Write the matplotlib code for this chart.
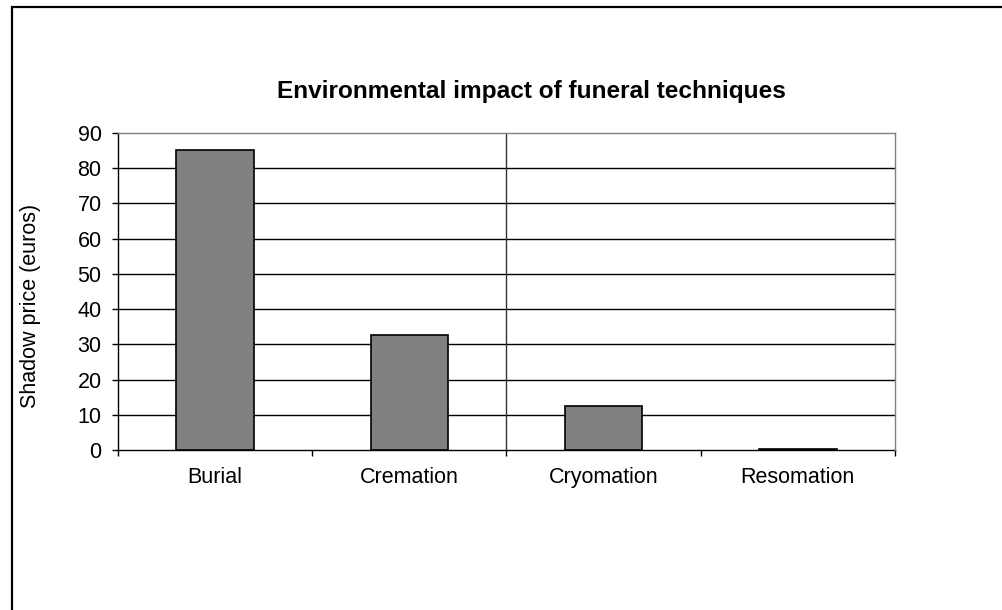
import matplotlib
matplotlib.use("Agg")
import matplotlib.pyplot as plt
from matplotlib.patches import Rectangle
import numpy as np

plt.rcParams['font.family'] = ['Liberation Sans', 'DejaVu Sans']

categories = ["Burial", "Cremation", "Cryomation", "Resomation"]
shadow_price = [85.2, 32.7, 12.4, 0.3]
y_ticks = [0, 10, 20, 30, 40, 50, 60, 70, 80, 90]

W, H, DPI = 1003, 610, 100
fig = plt.figure(figsize=(W / DPI, H / DPI), dpi=DPI)
fig.patch.set_facecolor("white")

def px(x, y):
    return x / W, 1 - y / H

# outer chart frame (runs off the right and bottom edges)
frame = Rectangle(px(12.5, 640), (1100 - 12.5) / W, (640 - 7) / H,
                  transform=fig.transFigure, fill=False, edgecolor="black",
                  linewidth=1.6, zorder=0)
fig.add_artist(frame)

left, right, top, bottom = 118, 895, 133, 450
ax = fig.add_axes([left / W, 1 - bottom / H, (right - left) / W, (bottom - top) / H])

x = np.arange(len(categories))
ax.set_xlim(-0.5, len(categories) - 0.5)
ax.set_ylim(0, 90)

# horizontal gridlines
for v in y_ticks[1:-1]:
    ax.axhline(v, color="black", linewidth=1.0, zorder=1)
ax.axvline(1.5, color="#333333", linewidth=1.0, zorder=1)

ax.bar(x, shadow_price, width=0.4, color="#808080", edgecolor="black",
       linewidth=1.2, zorder=3)

for side in ["top", "right"]:
    ax.spines[side].set_color("#808080")
    ax.spines[side].set_linewidth(1.0)
for side in ["left", "bottom"]:
    ax.spines[side].set_color("black")
    ax.spines[side].set_linewidth(1.0)
ax.spines["bottom"].set_zorder(2)

ax.set_yticks(y_ticks)
ax.set_yticklabels([str(v) for v in y_ticks])
ax.tick_params(axis="y", length=4.3, width=1.0, pad=7.5, labelsize=15.5, colors="black")

# category ticks sit between bars, labels centred under bars
ax.set_xticks(np.arange(-0.5, len(categories), 1.0))
ax.set_xticklabels([])
ax.set_xticks(x, minor=True)
ax.set_xticklabels(categories, minor=True)
ax.tick_params(axis="x", which="major", length=4.3, width=1.0, colors="black")
ax.tick_params(axis="x", which="minor", length=0, pad=12.5, labelsize=15.5, colors="black")

fig.text(*px(531, 98), "Environmental impact of funeral techniques",
         ha="center", va="baseline", fontsize=17.6, fontweight="bold")
fig.text(*px(31, 306), "Shadow price (euros)", rotation=90,
         ha="center", va="center", fontsize=15.5)

fig.savefig("out.png", dpi=DPI, facecolor="white")
